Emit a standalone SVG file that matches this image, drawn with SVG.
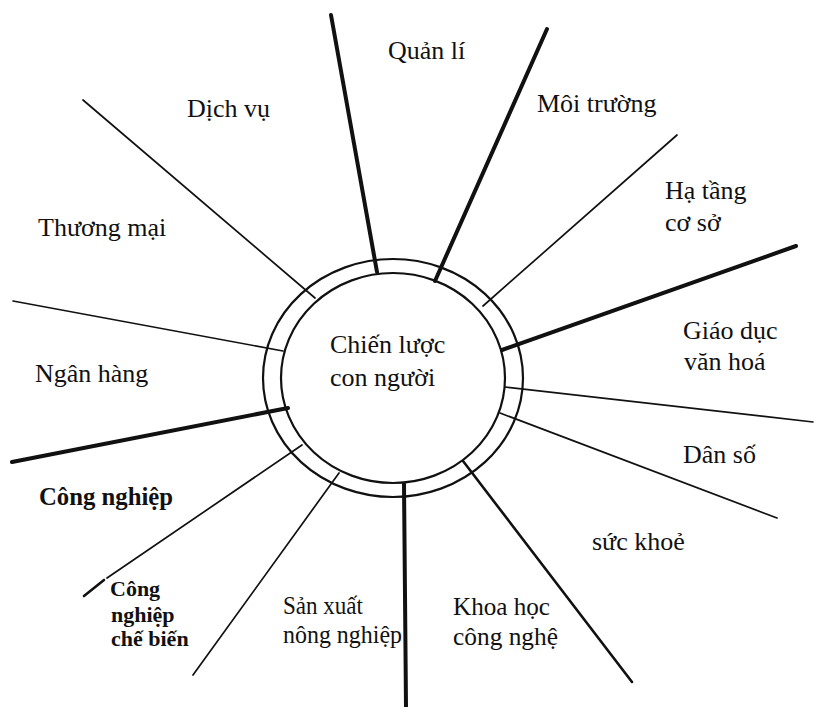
<svg xmlns="http://www.w3.org/2000/svg" width="814" height="707" viewBox="0 0 814 707">
<style>
text{font-family:"Liberation Serif","Times New Roman",serif;font-size:26px;fill:#111}
.b{font-weight:bold}
.s{font-size:22px}
.ring{fill:none;stroke:#111;stroke-width:2.2}
.thin{stroke:#111;stroke-width:1.7;stroke-linecap:round}
.mid{stroke:#111;stroke-width:2.6;stroke-linecap:round}
.thick{stroke:#111;stroke-width:4;stroke-linecap:round}
</style>
<rect width="814" height="707" fill="#fff"/>
<g id="connectors">
<line class="thick" x1="377" y1="272" x2="331" y2="15"/>
<line class="thick" x1="435" y1="281" x2="547" y2="29"/>
<line class="thin" x1="483" y1="306" x2="677" y2="135"/>
<line class="thick" x1="502" y1="350" x2="796" y2="246"/>
<line class="thin" x1="505" y1="387" x2="813" y2="422"/>
<line class="thin" x1="500" y1="413" x2="777" y2="518"/>
<line class="mid" x1="463" y1="461" x2="632" y2="682"/>
<line class="thick" x1="404" y1="484" x2="406" y2="707"/>
<line class="thin" x1="339" y1="473" x2="193" y2="675"/>
<line class="thin" x1="302" y1="445" x2="107" y2="578"/>
<line class="mid" x1="104" y1="580" x2="84" y2="596"/>
<line class="thick" x1="288" y1="408" x2="12" y2="462"/>
<line class="thin" x1="283" y1="351" x2="13" y2="301"/>
<line class="thin" x1="315" y1="298" x2="83" y2="100"/>
</g>
<g id="center">
<ellipse class="ring" cx="393" cy="378" rx="130" ry="119"/>
<ellipse class="ring" cx="393" cy="378" rx="112" ry="105"/>
<text x="330" y="353">Chiến lược</text>
<text x="330" y="386">con người</text>
</g>
<g id="quan-li"><text x="388" y="59">Quản lí</text></g>
<g id="moi-truong"><text x="537" y="112">Môi trường</text></g>
<g id="ha-tang"><text x="665" y="199">Hạ tầng</text><text x="665" y="231">cơ sở</text></g>
<g id="giao-duc"><text x="683" y="339">Giáo dục</text><text x="684" y="370">văn hoá</text></g>
<g id="dan-so"><text x="683" y="463">Dân số</text></g>
<g id="suc-khoe"><text x="592" y="550">sức khoẻ</text></g>
<g id="khoa-hoc"><text x="453" y="615" textLength="97" lengthAdjust="spacingAndGlyphs">Khoa học</text><text x="453" y="645" textLength="105" lengthAdjust="spacingAndGlyphs">công nghệ</text></g>
<g id="san-xuat"><text x="283" y="614" textLength="80" lengthAdjust="spacingAndGlyphs">Sản xuất</text><text x="283" y="643" textLength="119" lengthAdjust="spacingAndGlyphs">nông nghiệp</text></g>
<g id="cn-che-bien"><text class="b s" x="110" y="596">Công</text><text class="b s" x="111" y="622">nghiệp</text><text class="b s" x="111" y="646">chế biến</text></g>
<g id="cong-nghiep"><text class="b" x="39" y="505" font-size="24" textLength="134" lengthAdjust="spacingAndGlyphs">Công nghiệp</text></g>
<g id="ngan-hang"><text x="35" y="382">Ngân hàng</text></g>
<g id="thuong-mai"><text x="38" y="236">Thương mại</text></g>
<g id="dich-vu"><text x="187" y="117">Dịch vụ</text></g>
</svg>
